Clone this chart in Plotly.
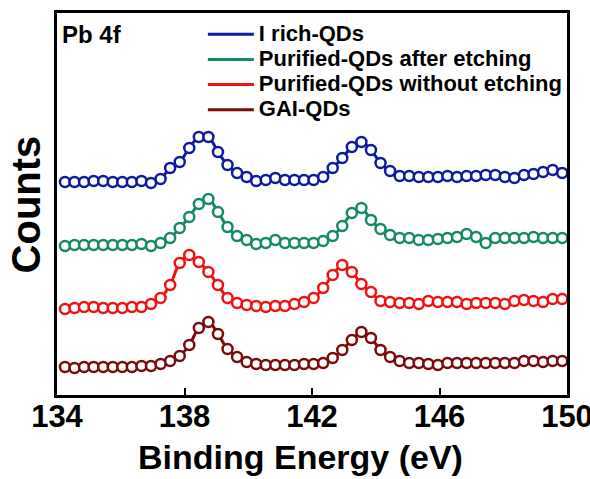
import plotly.graph_objects as go

# Binding energy grid (eV)
energy = [round(134.25 + 0.3 * i, 2) for i in range(53)]

# Intensities (a.u.) (vertically offset spectra)
i_rich = [213, 213, 213, 214, 214, 213, 213, 213, 214, 212,
          216, 227, 233, 247, 258, 258, 243, 230, 222, 218,
          214, 215, 217, 215, 215, 215, 215, 218, 227, 237,
          248, 253, 245, 232, 224, 219, 219, 218, 218, 218,
          219, 218, 219, 219, 220, 220, 218, 217, 220, 221,
          223, 225, 222]
purified_etch = [149, 150, 150, 150, 150, 150, 150, 150, 151, 149,
                 152, 157, 167, 178, 191, 196, 183, 168, 159, 155,
                 151, 152, 155, 152, 152, 152, 152, 154, 159, 169,
                 182, 187, 175, 166, 160, 157, 157, 155, 155, 156,
                 157, 158, 161, 158, 152, 157, 157, 157, 157, 158,
                 157, 157, 157]
purified_noetch = [86, 87, 88, 88, 87, 87, 87, 88, 88, 91,
                   97, 110, 132, 140, 133, 123, 110, 97, 92, 90,
                   89, 88, 89, 89, 91, 93, 97, 107, 120, 130,
                   123, 111, 103, 94, 93, 92, 92, 91, 94, 93,
                   93, 93, 91, 92, 92, 92, 91, 94, 95, 94,
                   93, 96, 96]
gai = [28, 27, 28, 28, 28, 28, 28, 28, 29, 29,
       31, 34, 39, 50, 67, 73, 61, 46, 38, 33,
       31, 30, 30, 30, 30, 31, 31, 32, 37, 45,
       55, 63, 57, 45, 38, 34, 32, 32, 31, 30,
       32, 32, 32, 32, 32, 32, 32, 32, 34, 34,
       33, 34, 34]

names = ["I rich-QDs", "Purified-QDs after etching",
         "Purified-QDs without etching", "GAI-QDs"]
series = [i_rich, purified_etch, purified_noetch, gai]
colors = ["#0d1b9e", "#168a64", "#f01212", "#7a0b0b"]

x_ticks = [134, 138, 142, 146, 150]

fig = go.Figure()
for k, (name, ys, c) in enumerate(zip(names, series, colors)):
    fig.add_trace(go.Scatter(
        x=energy, y=ys, mode="lines",
        name=f"<b><span style='font-size:22px'>{name}</span></b>",
        line=dict(color=c, width=3, shape="spline", smoothing=1.0),
        legendgroup=f"g{k}"))
for k, (name, ys, c) in enumerate(zip(names, series, colors)):
    fig.add_trace(go.Scatter(
        x=energy, y=ys, mode="markers", name=name, showlegend=False,
        marker=dict(symbol="circle", size=10, color="white",
                    line=dict(color=c, width=2.5))))

font_family = "Liberation Sans, Arial, sans-serif"

fig.update_layout(
    width=590, height=479,
    margin=dict(l=57, r=23, t=13, b=84, autoexpand=False),
    paper_bgcolor="white", plot_bgcolor="white",
    font=dict(family=font_family, color="black"),
    showlegend=True,
    legend=dict(x=0.286, y=0.99, xanchor="left", yanchor="top",
                bgcolor="rgba(0,0,0,0)", itemwidth=46, tracegroupgap=0,
                font=dict(size=17, family=font_family, color="black")),
    xaxis=dict(range=[134, 150], tickvals=x_ticks, ticktext=[str(t) for t in x_ticks],
               ticks="inside", ticklen=7, tickwidth=2, tickcolor="black",
               ticklabelstandoff=-8, ticklabeloverflow="allow", automargin=False,
               showline=True, linewidth=2.5, linecolor="black", mirror=True,
               showgrid=False, zeroline=False,
               tickfont=dict(size=31, family=font_family, weight="bold")),
    yaxis=dict(range=[0, 382], showticklabels=False, ticks="", automargin=False,
               showline=True, linewidth=2.5, linecolor="black", mirror=True,
               showgrid=False, zeroline=False),
    annotations=[
        dict(text="<b>Binding Energy (eV)</b>", xref="paper", yref="paper",
             x=0.477, y=-0.162, xanchor="center", yanchor="middle",
             showarrow=False, font=dict(size=34)),
        dict(text="<b>Counts</b>", xref="paper", yref="paper",
             x=-0.06, y=0.50, xanchor="center", yanchor="middle",
             textangle=-90, showarrow=False, font=dict(size=40)),
        dict(text="<b>Pb 4f</b>", xref="paper", yref="paper",
             x=0.006, y=0.945, xanchor="left", yanchor="middle",
             showarrow=False, font=dict(size=24)),
    ],
)

fig.write_html("out.html", config={"displayModeBar": False},
               post_script="document.body.style.margin='0px';")
